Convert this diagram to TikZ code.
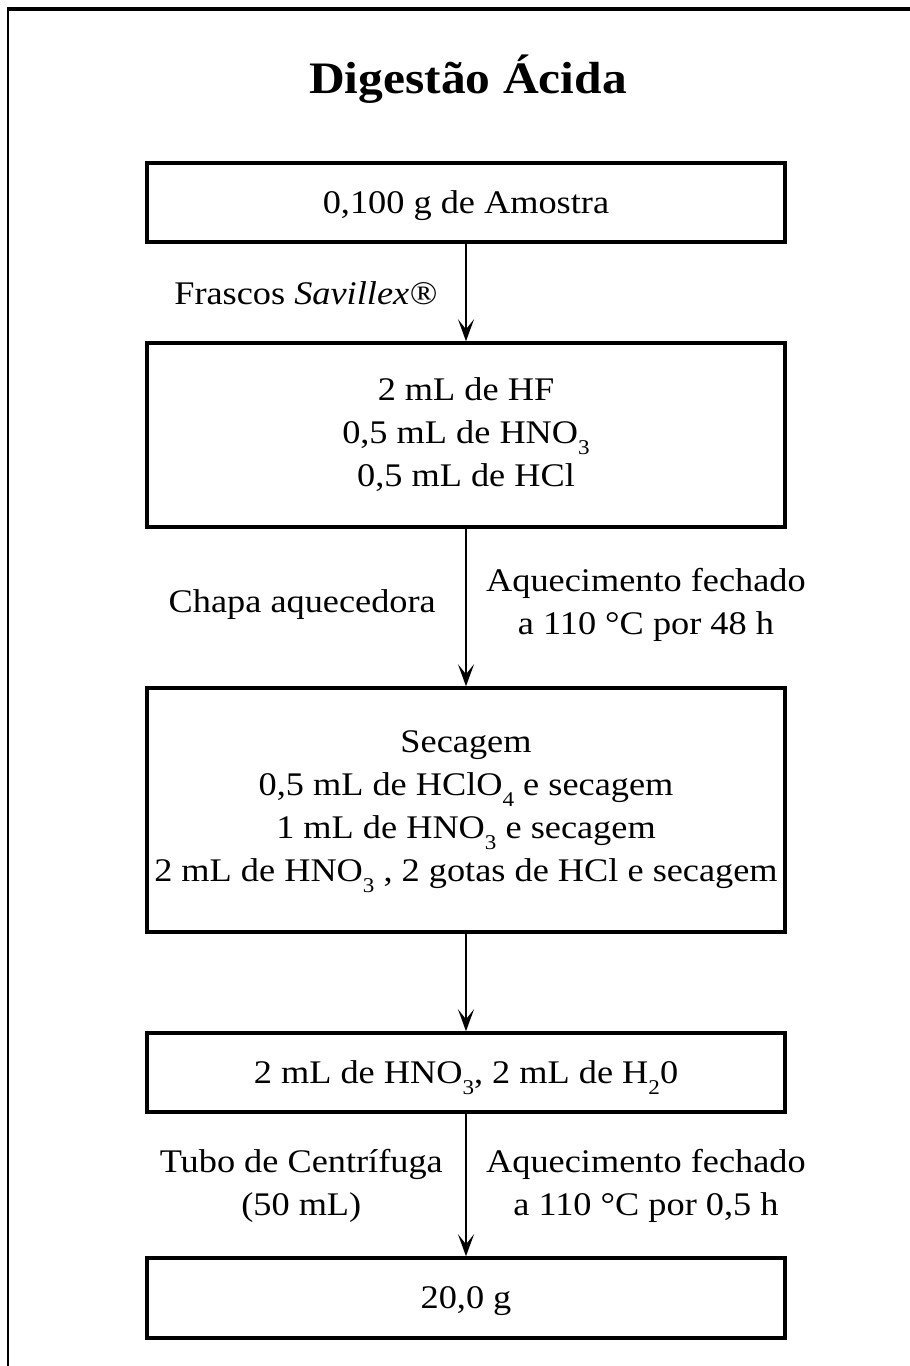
\documentclass[tikz,border=0pt]{standalone}
\usepackage{fontspec}
\setmainfont{Liberation Serif}[FakeStretch=1.1]
\usetikzlibrary{arrows.meta}
\newcommand\lowidx[1]{\raisebox{-0.33em}[0pt][0pt]{\fontsize{21}{21}\selectfont #1}}
\begin{document}
\begin{tikzpicture}[x=1pt,y=-1pt,
  box/.style={draw,line width=3.5pt,minimum width=638pt,inner xsep=2pt,inner ysep=0pt,align=center,font=\fontsize{33}{43}\selectfont},
  lbl/.style={inner sep=0pt,align=center,font=\fontsize{33}{43}\selectfont},
  arr/.style={line width=2.3pt,-{Stealth[length=22pt,width=16pt,inset=10pt]}},
  titlefont/.style={inner sep=0pt,font=\fontsize{45}{50}\selectfont\bfseries}]
\useasboundingbox (0,0) rectangle (910,1366);
\fill[white] (0,0) rectangle (910,1366);
% outer frame (only top and left edges visible)
\draw[line width=3.5pt] (6.5,9) -- (910,9);
\draw[line width=2.5pt] (8,8) -- (8,1366);
% title
\node[titlefont] (title) at (468,79) {Digestão Ácida};
% boxes
\node[box,minimum height=79pt,text depth=0pt] (b1) at (466,202.5) {0,100 g de Amostra};
\node[box,minimum height=184pt] (b2) at (466,435) {2 mL de HF\\0,5 mL de HNO\lowidx{3}\\0,5 mL de HCl};
\node[box,minimum height=244pt] (b3) at (466,810) {Secagem\\0,5 mL de HClO\lowidx{4} e secagem\\1 mL de HNO\lowidx{3} e secagem\\2 mL de HNO\lowidx{3} , 2 gotas de HCl e secagem};
\node[box,minimum height=79pt,text depth=0pt] (b4) at (466,1072.5) {2 mL de HNO\lowidx{3}, 2 mL de H\lowidx{2}0};
\node[box,minimum height=80pt,text depth=0pt] (b5) at (466,1298) {20,0 g};
% connectors
\draw[arr] (b1.south) -- (b2.north);
\draw[arr] (b2.south) -- (b3.north);
\draw[arr] (b3.south) -- (b4.north);
\draw[arr] (b4.south) -- (b5.north);
% labels
\node[lbl,anchor=east] (l1) at (437,293) {Frascos \textit{Savillex®}};
\node[lbl,anchor=east] (l2) at (436,605) {Chapa aquecedora};
\node[lbl,anchor=west] (l3) at (486,605) {Aquecimento fechado\\a 110 °C por 48 h};
\node[lbl,anchor=east] (l4) at (443,1186) {Tubo de Centrífuga\\(50 mL)};
\node[lbl,anchor=west] (l5) at (486,1186) {Aquecimento fechado\\a 110 °C por 0,5 h};
\end{tikzpicture}
\end{document}
